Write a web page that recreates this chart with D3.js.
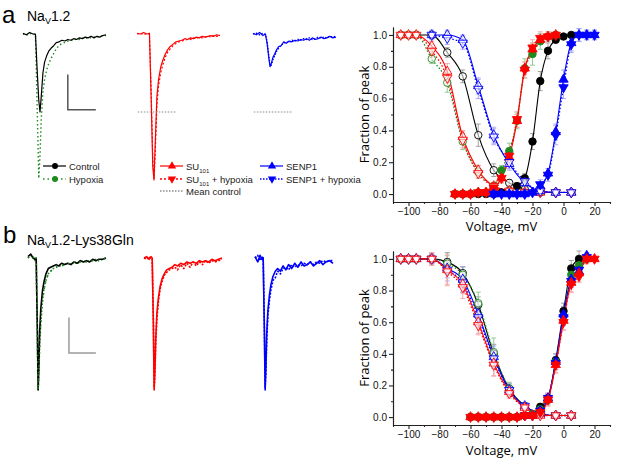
<!DOCTYPE html>
<html>
<head>
<meta charset="utf-8">
<script src="https://cdn.jsdelivr.net/npm/d3@7"></script>
<style>
  body { margin: 0; background: #fff; }
  svg { display: block; }
  .tick text { font-family: "Liberation Sans", Arial, sans-serif; font-size: 10px; }
</style>
</head>
<body>
<div id="fig"></div>
<script>

// ---- current traces (ms, normalised to mean control peak) ----
var tA = [0, 0.8, 1.6, 2.4, 3.0, 3.4, 3.8, 4.1, 4.4, 4.8, 5.2, 5.7, 6.2, 6.8, 7.4, 8.0, 8.7,
          9.4, 10.1, 10.8, 11.5, 12.2, 12.9, 13.6, 14.3, 15.0, 15.7, 16.4, 17.1, 17.8, 18.5, 19.2, 20.0];
var ctrlTraceA = [0.01, -0.01, 0.02, 0, 0, -0.45, -0.85, -1.0, -0.8, -0.5, -0.36, -0.28, -0.22, -0.18, -0.15, -0.11, -0.1,
                  -0.08, -0.09, -0.07, -0.08, -0.06, -0.07, -0.05, -0.06, -0.04, -0.05, -0.03, -0.05, -0.03, -0.04, -0.02, -0.01];
var hypTraceA = [0, -0.02, 0.01, -0.01, 0, -0.9, -1.85, -1.55, -1.1, -0.75, -0.58, -0.46, -0.38, -0.31, -0.25, -0.19, -0.15,
                 -0.12, -0.11, -0.09, -0.08, -0.08, -0.06, -0.07, -0.05, -0.06, -0.04, -0.05, -0.04, -0.03, -0.04, -0.02, -0.02];
var suTraceA = [0.01, 0, 0.02, 0, 0.01, -0.8, -1.7, -1.87, -1.4, -0.8, -0.58, -0.43, -0.34, -0.26, -0.2, -0.16, -0.13,
                -0.1, -0.09, -0.08, -0.06, -0.07, -0.05, -0.06, -0.04, -0.05, -0.03, -0.04, -0.03, -0.02, -0.03, -0.01, -0.02];
var suHypTraceA = [0, 0.01, -0.01, 0.01, 0, -0.7, -1.6, -1.85, -1.5, -0.9, -0.66, -0.5, -0.4, -0.3, -0.23, -0.19, -0.15,
                   -0.12, -0.1, -0.09, -0.08, -0.07, -0.07, -0.05, -0.06, -0.04, -0.05, -0.04, -0.03, -0.04, -0.02, -0.03, -0.02];
var senpTraceA = [0.01, -0.01, 0.02, -0.02, 0, -0.12, -0.3, -0.42, -0.38, -0.3, -0.26, -0.2, -0.16, -0.15, -0.1, -0.12, -0.09,
                  -0.1, -0.08, -0.09, -0.07, -0.08, -0.06, -0.08, -0.05, -0.07, -0.06, -0.04, -0.06, -0.05, -0.03, -0.05, -0.04];
var senpHypTraceA = [0, 0.01, -0.01, 0.01, -0.01, -0.1, -0.28, -0.4, -0.4, -0.33, -0.28, -0.22, -0.18, -0.14, -0.12, -0.1, -0.11,
                     -0.08, -0.09, -0.07, -0.08, -0.06, -0.07, -0.05, -0.07, -0.06, -0.04, -0.05, -0.04, -0.05, -0.03, -0.04, -0.03];

var tB = [0, 0.7, 1.3, 1.8, 2.1, 2.4, 2.6, 2.8, 3.0, 3.3, 3.7, 4.1, 4.6, 5.2, 5.8, 6.5, 7.2,
          7.9, 8.6, 9.4, 10.2, 11.0, 11.8, 12.6, 13.4, 14.2, 15.0, 15.8, 16.6, 17.4, 18.2, 19.1, 20.0];
var ctrlTraceB = [0.01, 0.03, 0.0, -0.01, 0, -0.55, -1.0, -0.8, -0.55, -0.38, -0.25, -0.18, -0.12, -0.08, -0.07, -0.06, -0.05,
                  -0.06, -0.04, -0.05, -0.04, -0.05, -0.03, -0.04, -0.02, -0.03, -0.02, -0.03, -0.01, -0.02, -0.01, -0.01, 0];
var hypTraceB = [0, 0.02, 0.01, -0.02, 0, -0.6, -1.0, -0.85, -0.65, -0.48, -0.33, -0.24, -0.17, -0.12, -0.1, -0.08, -0.07,
                 -0.06, -0.06, -0.05, -0.04, -0.05, -0.03, -0.04, -0.03, -0.02, -0.03, -0.02, -0.02, -0.01, -0.02, -0.01, 0];
var suTraceB = [0, 0.01, -0.01, 0.01, 0, -0.5, -1.0, -0.85, -0.62, -0.42, -0.3, -0.22, -0.16, -0.12, -0.09, -0.08, -0.07,
                -0.05, -0.06, -0.04, -0.05, -0.03, -0.04, -0.03, -0.04, -0.02, -0.03, -0.02, -0.03, -0.01, -0.02, -0.01, 0];
var suHypTraceB = [0, -0.01, 0.01, 0, 0, -0.45, -0.98, -0.88, -0.66, -0.46, -0.33, -0.24, -0.18, -0.13, -0.11, -0.09, -0.08,
                   -0.07, -0.09, -0.05, -0.08, -0.04, -0.07, -0.03, -0.06, -0.03, -0.05, -0.02, -0.04, -0.02, -0.03, -0.02, -0.01];
var senpTraceB = [0.01, -0.03, 0.02, -0.01, 0, -0.55, -1.0, -0.82, -0.58, -0.4, -0.28, -0.2, -0.14, -0.1, -0.08, -0.1, -0.06,
                  -0.09, -0.05, -0.08, -0.04, -0.07, -0.03, -0.06, -0.05, -0.03, -0.06, -0.04, -0.02, -0.05, -0.03, -0.02, -0.04];
var senpHypTraceB = [0, 0.02, -0.02, 0.01, 0, -0.5, -0.98, -0.86, -0.62, -0.44, -0.32, -0.24, -0.17, -0.15, -0.1, -0.12, -0.08,
                     -0.07, -0.09, -0.05, -0.07, -0.05, -0.06, -0.04, -0.05, -0.03, -0.05, -0.03, -0.04, -0.02, -0.03, -0.02, -0.02];

// scale bars [t start, i start, length ms, length amp]
var scaleBarA = [10.8, -0.97, 6.75, 0.45];
var scaleBarB = [10.5, -0.72, 6.9, 0.27];
var meanControl = -1;

// ---- voltage dependence ----
var inactX = [-105, -100, -95, -85, -75, -65, -55, -45, -35, -25, -15, -5, 5];
var actXa = [-70, -65, -60, -55, -50, -45, -40, -35, -30, -25, -20, -15, -10, -5, 0, 5, 10, 15, 20];
var actXb = [-60, -55, -50, -45, -40, -35, -30, -25, -20, -15, -10, -5, 0, 5, 10, 15, 20];

var inactCtrlA = [1, 1, 1, 1.0, 0.89, 0.74, 0.37, 0.15, 0.07, 0.03, 0.01, 0.01, 0.01];
var inactHypA = [1, 1, 1, 0.85, 0.70, 0.33, 0.14, 0.05, 0.02, 0.01, 0.01, 0.01, 0.01];
var inactSuA = [1, 1, 1, 0.93, 0.77, 0.36, 0.15, 0.05, 0.02, 0.01, 0.01, 0.01, 0.01];
var inactSuHypA = [1, 1, 1, 0.90, 0.73, 0.34, 0.13, 0.05, 0.02, 0.01, 0.01, 0.01, 0.01];
var inactSenpA = [null, null, null, 1.0, 1.0, 0.97, 0.68, 0.37, 0.19, 0.07, 0.02, 0.01, 0.01];
var inactSenpHypA = [null, null, null, 1.0, 0.98, 0.95, 0.66, 0.36, 0.20, 0.08, 0.02, 0.01, 0.01];
var inactCtrlAErr = [0, 0, 0, 0.02, 0.03, 0.04, 0.07, 0.04, 0.02, 0.01, 0.01, 0.01, 0];
var inactHypAErr = [0, 0, 0, 0.03, 0.06, 0.05, 0.04, 0.02, 0.01, 0.01, 0, 0, 0];
var inactSuAErr = [0, 0, 0, 0.03, 0.05, 0.04, 0.03, 0.02, 0.01, 0.01, 0, 0, 0];
var inactSuHypAErr = [0, 0, 0, 0.04, 0.05, 0.05, 0.03, 0.02, 0.01, 0.01, 0, 0, 0];
var inactSenpAErr = [null, null, null, 0.02, 0.03, 0.03, 0.05, 0.05, 0.04, 0.02, 0.01, 0.01, 0.01];
var inactSenpHypAErr = [null, null, null, 0.03, 0.04, 0.04, 0.06, 0.05, 0.04, 0.02, 0.01, 0.01, 0.01];

var actCtrlA = [0, 0, 0, 0, 0, 0, 0.01, 0.02, 0.05, 0.10, 0.33, 0.71, 0.90, 0.97, 0.99, 1.0, null, null, null];
var actHypA = [0, 0, 0, 0.01, 0.01, 0.05, 0.15, 0.27, 0.46, 0.79, 0.88, 0.96, 0.99, 1.0, null, null, null, null, null];
var actSuA = [0, 0, 0, 0.01, 0.01, 0.04, 0.10, 0.23, 0.46, 0.79, 0.91, 0.97, 0.99, 1.0, null, null, null, null, null];
var actSuHypA = [0, 0, 0, 0.01, 0.01, 0.04, 0.10, 0.24, 0.47, 0.78, 0.92, 0.98, 0.99, 1.0, null, null, null, null, null];
var actSenpA = [null, null, null, null, null, 0, 0, 0, 0, 0, 0.01, 0.05, 0.13, 0.39, 0.72, 0.95, 1.0, 1.0, 1.0];
var actSenpHypA = [null, null, null, null, null, 0, 0, 0, 0, 0, 0.01, 0.06, 0.12, 0.37, 0.67, 0.94, 1.0, 1.0, 1.0];
var actCtrlAErr = [0, 0, 0, 0, 0, 0, 0.01, 0.01, 0.02, 0.03, 0.05, 0.06, 0.05, 0.02, 0.01, 0.01, null, null, null];
var actHypAErr = [0, 0, 0, 0.01, 0.01, 0.02, 0.03, 0.05, 0.05, 0.06, 0.07, 0.05, 0.03, 0.02, null, null, null, null, null];
var actSuAErr = [0, 0, 0, 0, 0.01, 0.02, 0.03, 0.04, 0.04, 0.04, 0.04, 0.03, 0.02, 0.02, null, null, null, null, null];
var actSuHypAErr = [0, 0, 0, 0, 0.01, 0.02, 0.03, 0.04, 0.05, 0.05, 0.05, 0.04, 0.03, 0.02, null, null, null, null, null];
var actSenpAErr = [null, null, null, null, null, 0, 0, 0, 0, 0, 0.01, 0.02, 0.03, 0.05, 0.06, 0.05, 0.04, 0.03, 0.03];
var actSenpHypAErr = [null, null, null, null, null, 0, 0, 0, 0, 0, 0.01, 0.03, 0.04, 0.06, 0.07, 0.05, 0.04, 0.03, 0.03];

var inactCtrlB = [1, 1, 1, 1.0, 0.98, 0.91, 0.71, 0.40, 0.18, 0.07, 0.02, 0.01, 0.01];
var inactHypB = [1, 1, 1, 1.0, 0.97, 0.90, 0.72, 0.41, 0.18, 0.07, 0.02, 0.01, 0.01];
var inactSuB = [1, 1, 1, 1.0, 0.93, 0.84, 0.60, 0.34, 0.16, 0.06, 0.01, 0.01, 0.01];
var inactSuHypB = [1, 1, 1, 1.0, 0.92, 0.82, 0.58, 0.33, 0.15, 0.06, 0.01, 0.01, 0.01];
var inactSenpB = [1, 1, 1, 1.0, 0.94, 0.87, 0.65, 0.38, 0.17, 0.07, 0.02, 0.01, 0.01];
var inactSenpHypB = [1, 1, 1, 1.0, 0.93, 0.85, 0.63, 0.37, 0.17, 0.07, 0.02, 0.01, 0.01];
var inactCtrlBErr = [0, 0, 0, 0.03, 0.06, 0.04, 0.05, 0.06, 0.03, 0.02, 0.01, 0, 0];
var inactHypBErr = [0, 0, 0, 0.03, 0.05, 0.05, 0.07, 0.09, 0.04, 0.02, 0.01, 0, 0];
var inactSuBErr = [0, 0, 0, 0.04, 0.10, 0.06, 0.07, 0.08, 0.03, 0.02, 0.01, 0, 0];
var inactSuHypBErr = [0, 0, 0, 0.04, 0.08, 0.07, 0.06, 0.07, 0.03, 0.02, 0.01, 0, 0];
var inactSenpBErr = [0, 0, 0, 0.03, 0.06, 0.08, 0.05, 0.07, 0.04, 0.02, 0.01, 0, 0];
var inactSenpHypBErr = [0, 0, 0, 0.03, 0.07, 0.06, 0.06, 0.06, 0.03, 0.02, 0.01, 0, 0];

var actCtrlB = [0, 0, 0, 0, 0, 0, 0, 0.01, 0.02, 0.065, 0.12, 0.36, 0.67, 0.94, 1.0, null, null];
var actHypB = [0, 0, 0, 0, 0, 0, 0, 0.01, 0.02, 0.05, 0.11, 0.35, 0.64, 0.90, 0.96, 1.0, null];
var actSuB = [0, 0, 0, 0, 0, 0, 0, 0.01, 0.01, 0.03, 0.11, 0.33, 0.61, 0.85, 0.91, 1.0, 1.0];
var actSuHypB = [0, 0, 0, 0, 0, 0, 0, 0.01, 0.01, 0.03, 0.11, 0.33, 0.60, 0.84, 0.89, 1.0, 1.0];
var actSenpB = [null, null, null, null, null, null, null, 0.01, 0.01, 0.04, 0.12, 0.35, 0.65, 0.87, 0.92, 1.02, null];
var actSenpHypB = [null, null, null, null, null, null, null, 0.01, 0.01, 0.04, 0.12, 0.34, 0.63, 0.86, 0.93, 1.01, null];
var actCtrlBErr = [0, 0, 0, 0, 0, 0, 0, 0, 0.01, 0.02, 0.03, 0.04, 0.05, 0.05, 0.05, null, null];
var actHypBErr = [0, 0, 0, 0, 0, 0, 0, 0, 0.01, 0.02, 0.03, 0.05, 0.06, 0.05, 0.04, 0.02, null];
var actSuBErr = [0, 0, 0, 0, 0, 0, 0, 0, 0.01, 0.02, 0.04, 0.05, 0.06, 0.06, 0.05, 0.03, 0.01];
var actSuHypBErr = [0, 0, 0, 0, 0, 0, 0, 0, 0.01, 0.02, 0.04, 0.05, 0.05, 0.05, 0.04, 0.03, 0.01];
var actSenpBErr = [null, null, null, null, null, null, null, 0, 0.01, 0.02, 0.03, 0.05, 0.05, 0.05, 0.04, 0.02, null];
var actSenpHypBErr = [null, null, null, null, null, null, null, 0, 0.01, 0.02, 0.03, 0.04, 0.05, 0.04, 0.04, 0.02, null];

var xTicks = [-100, -80, -60, -40, -20, 0, 20];
var xMinor = [-110, -90, -70, -50, -30, -10, 10, 30];
var yTicks = [0, 0.2, 0.4, 0.6, 0.8, 1.0];
var yMinor = [0.1, 0.3, 0.5, 0.7, 0.9];

var colors = { ctrl: "#000000", hyp: "#1e8a1e", su: "#ff0000", senp: "#0000ff" };
var errColors = { ctrl: "#9a9a9a", hyp: "#8cc48c", su: "#f5a3a3", senp: "#a3a3f5" };

var width = 617, height = 464;
var svg = d3.select('#fig').append('svg')
  .attr('width', width)
  .attr('height', height);

var sans = '"Liberation Sans", Arial, sans-serif';
var human = '"Open Sans", "Noto Sans", sans-serif';

// panel letters + titles =====================
svg.append('text').attr('x', 2).attr('y', 23).attr('font-family', sans).attr('font-size', 24).text('a');
svg.append('text').attr('x', 3).attr('y', 243).attr('font-family', sans).attr('font-size', 24).text('b');

function title(y, rest) {
  var t = svg.append('text').attr('x', 27).attr('y', y).attr('font-family', sans).attr('font-size', 14);
  t.append('tspan').text('Na');
  t.append('tspan').attr('font-size', 9).attr('dy', 3).text('V');
  t.append('tspan').attr('dy', -3).text(rest);
}
title(21, '1.2');
title(245, '1.2-Lys38Gln');

// traces =====================
var line = d3.line().x(function(d) { return d[0]; }).y(function(d) { return d[1]; });

function drawTrace(x, y, t, vals, color, dash, w) {
  svg.append('path')
    .datum(vals.map(function(v, i) { return [x(t[i]), y(v)]; }))
    .attr('d', line)
    .attr('fill', 'none')
    .attr('stroke', color)
    .attr('stroke-width', w || 1.2)
    .attr('stroke-linejoin', 'round')
    .attr('stroke-dasharray', dash || null);
}

var yTrA = d3.scaleLinear().domain([0, -1]).range([34, 112]);
var yTrB = d3.scaleLinear().domain([0, -1]).range([258, 390]);
var trA = [23, 137, 253].map(function(x0) { return d3.scaleLinear().domain([0, 20]).range([x0, x0 + 83]); });
var trB = [28, 144, 255].map(function(x0) { return d3.scaleLinear().domain([0, 20]).range([x0, x0 + 78]); });

drawTrace(trA[0], yTrA, tA, hypTraceA, colors.hyp, '1.5,2.5', 1.4);
drawTrace(trA[0], yTrA, tA, ctrlTraceA, colors.ctrl);
drawTrace(trA[1], yTrA, tA, suHypTraceA, colors.su, '2,2');
drawTrace(trA[1], yTrA, tA, suTraceA, colors.su);
drawTrace(trA[2], yTrA, tA, senpHypTraceA, colors.senp, '1.5,1.5', 1.4);
drawTrace(trA[2], yTrA, tA, senpTraceA, colors.senp);

drawTrace(trB[0], yTrB, tB, hypTraceB, colors.hyp, '1.5,2', 1.6);
drawTrace(trB[0], yTrB, tB, ctrlTraceB, colors.ctrl, null, 1.6);
drawTrace(trB[0], yTrB, tB, hypTraceB, colors.hyp, '1.5,5', 1.6);
drawTrace(trB[1], yTrB, tB, suHypTraceB, colors.su, '2,1.5', 1.6);
drawTrace(trB[1], yTrB, tB, suTraceB, colors.su, null, 1.6);
drawTrace(trB[2], yTrB, tB, senpHypTraceB, colors.senp, '2,1.5', 1.6);
drawTrace(trB[2], yTrB, tB, senpTraceB, colors.senp, null, 1.6);

// mean control (dotted grey) in SU / SENP panels
[trA[1], trA[2]].forEach(function(x) {
  svg.append('line')
    .attr('x1', x(0.2)).attr('x2', x(9.4))
    .attr('y1', yTrA(meanControl)).attr('y2', yTrA(meanControl))
    .attr('stroke', '#8a8a8a').attr('stroke-width', 1.2).attr('stroke-dasharray', '1.5,1.5');
});

function scaleBar(x, y, sb, color) {
  svg.append('path')
    .attr('d', 'M' + x(sb[0]) + ',' + y(sb[1] + sb[3]) + 'V' + y(sb[1]) + 'H' + x(sb[0] + sb[2]))
    .attr('fill', 'none').attr('stroke', color).attr('stroke-width', 1.5);
}
scaleBar(trA[0], yTrA, scaleBarA, '#555');
scaleBar(trB[0], yTrB, scaleBarB, '#9a9a9a');

// legend =====================
var symUp = d3.symbol().type(d3.symbolTriangle).size(30);
var symCircle = d3.symbol().type(d3.symbolCircle).size(28);

function legendItem(x, y, color, dash, sym, flip, label, sub, after) {
  svg.append('line').attr('x1', x).attr('x2', x + 23).attr('y1', y).attr('y2', y)
    .attr('stroke', color).attr('stroke-width', dash ? 1.4 : 1.2).attr('stroke-dasharray', dash);
  if (sym) {
    svg.append('path').attr('d', sym())
      .attr('transform', 'translate(' + (x + 12) + ',' + y + ')' + (flip ? ' rotate(180)' : ''))
      .attr('fill', color);
  }
  var t = svg.append('text').attr('x', x + 26).attr('y', y + 3.5)
    .attr('font-family', sans).attr('font-size', 9.5).attr('fill', '#222');
  t.append('tspan').text(label);
  if (sub) {
    t.append('tspan').attr('font-size', 6).attr('dy', 3).text(sub);
    if (after) t.append('tspan').attr('dy', -3).text(after);
  }
}
legendItem(43, 166, colors.ctrl, null, symCircle, false, 'Control');
legendItem(43, 179, colors.hyp, '1.5,3', symCircle, false, 'Hypoxia');
legendItem(160, 166, colors.su, null, symUp, false, 'SU', '101');
legendItem(160, 179, colors.su, '2,2', symUp, true, 'SU', '101', ' + hypoxia');
legendItem(160, 191, '#8a8a8a', '1.5,1.5', null, false, 'Mean control');
legendItem(260, 166, colors.senp, null, symUp, false, 'SENP1');
legendItem(260, 179, colors.senp, '1.5,1.5', symUp, true, 'SENP1 + hypoxia');

// voltage plots =====================
var xV = d3.scaleLinear().domain([-110, 30]).range([393, 610]);

var seriesA = [
  { key: 'ctrl', sym: d3.symbolCircle, flip: false, dash: null, inact: inactCtrlA, inactErr: inactCtrlAErr, act: actCtrlA, actErr: actCtrlAErr },
  { key: 'hyp', sym: d3.symbolCircle, flip: false, dash: '1.5,2', inact: inactHypA, inactErr: inactHypAErr, act: actHypA, actErr: actHypAErr },
  { key: 'su', sym: d3.symbolTriangle, flip: false, dash: null, inact: inactSuA, inactErr: inactSuAErr, act: actSuA, actErr: actSuAErr },
  { key: 'su', sym: d3.symbolTriangle, flip: true, dash: '1.5,2', inact: inactSuHypA, inactErr: inactSuHypAErr, act: actSuHypA, actErr: actSuHypAErr },
  { key: 'senp', sym: d3.symbolTriangle, flip: false, dash: null, inact: inactSenpA, inactErr: inactSenpAErr, act: actSenpA, actErr: actSenpAErr },
  { key: 'senp', sym: d3.symbolTriangle, flip: true, dash: '1.5,2', inact: inactSenpHypA, inactErr: inactSenpHypAErr, act: actSenpHypA, actErr: actSenpHypAErr }
];
var seriesB = [
  { key: 'ctrl', sym: d3.symbolCircle, flip: false, dash: null, inact: inactCtrlB, inactErr: inactCtrlBErr, act: actCtrlB, actErr: actCtrlBErr },
  { key: 'hyp', sym: d3.symbolCircle, flip: false, dash: '1.5,2', inact: inactHypB, inactErr: inactHypBErr, act: actHypB, actErr: actHypBErr },
  { key: 'senp', sym: d3.symbolTriangle, flip: false, dash: null, inact: inactSenpB, inactErr: inactSenpBErr, act: actSenpB, actErr: actSenpBErr },
  { key: 'senp', sym: d3.symbolTriangle, flip: true, dash: '1.5,2', inact: inactSenpHypB, inactErr: inactSenpHypBErr, act: actSenpHypB, actErr: actSenpHypBErr },
  { key: 'su', sym: d3.symbolTriangle, flip: false, dash: null, inact: inactSuB, inactErr: inactSuBErr, act: actSuB, actErr: actSuBErr },
  { key: 'su', sym: d3.symbolTriangle, flip: true, dash: '1.5,2', inact: inactSuHypB, inactErr: inactSuHypBErr, act: actSuHypB, actErr: actSuHypBErr }
];

function pts(xs, ys, es) {
  return xs.map(function(x, i) { return { x: x, y: ys[i], e: es[i] }; })
    .filter(function(d) { return d.y != null; });
}

function voltagePlot(y, series, actX, labelY) {
  var g = svg.append('g');

  // axes
  g.append('g').attr('transform', 'translate(0,' + y.range()[0] + ')')
    .call(d3.axisBottom(xV).tickValues(xTicks).tickSize(4).tickSizeOuter(0).tickPadding(2));
  g.append('g').attr('transform', 'translate(0,' + y.range()[0] + ')')
    .call(d3.axisBottom(xV).tickValues(xMinor).tickSize(2).tickSizeOuter(0).tickFormat(''));
  g.append('g').attr('transform', 'translate(' + xV.range()[0] + ',0)')
    .call(d3.axisLeft(y).tickValues(yTicks).tickSize(4).tickSizeOuter(0).tickPadding(2).tickFormat(d3.format('.1f')));
  g.append('g').attr('transform', 'translate(' + xV.range()[0] + ',0)')
    .call(d3.axisLeft(y).tickValues(yMinor).tickSize(2).tickSizeOuter(0).tickFormat(''));
  g.selectAll('.domain, .tick line').attr('stroke', '#222').attr('stroke-width', 1.1);
  g.selectAll('.tick text').attr('fill', '#111');

  g.append('text')
    .attr('transform', 'translate(369,' + ((y.range()[0] + y.range()[1]) / 2) + ') rotate(-90)')
    .attr('text-anchor', 'middle').attr('font-family', human).attr('font-size', 13)
    .text('Fraction of peak');
  g.append('text')
    .attr('x', (xV.range()[0] + xV.range()[1]) / 2).attr('y', labelY)
    .attr('text-anchor', 'middle').attr('font-family', human).attr('font-size', 13)
    .text('Voltage, mV');

  var curve = d3.line().x(function(d) { return xV(d.x); }).y(function(d) { return y(d.y); })
    .curve(d3.curveMonotoneX);

  var sets = [];
  series.forEach(function(s) {
    sets.push({ s: s, open: true, d: pts(inactX, s.inact, s.inactErr) });
    sets.push({ s: s, open: false, d: pts(actX, s.act, s.actErr) });
  });

  // error bars
  sets.forEach(function(set) {
    var c = errColors[set.s.key];
    set.d.filter(function(d) { return d.e > 0; }).forEach(function(d) {
      var px = xV(d.x), y0 = y(d.y - d.e), y1 = y(d.y + d.e);
      g.append('path')
        .attr('d', 'M' + px + ',' + y0 + 'V' + y1 + 'M' + (px - 2.5) + ',' + y0 + 'h5M' + (px - 2.5) + ',' + y1 + 'h5')
        .attr('stroke', c).attr('stroke-width', 0.9).attr('fill', 'none');
    });
  });

  // fitted lines
  sets.forEach(function(set) {
    g.append('path').datum(set.d).attr('d', curve)
      .attr('fill', 'none').attr('stroke', colors[set.s.key])
      .attr('stroke-width', set.s.dash ? 1.3 : 1.1)
      .attr('stroke-dasharray', set.s.dash);
  });

  // markers
  sets.forEach(function(set) {
    var sym = d3.symbol().type(set.s.sym).size(set.s.sym === d3.symbolCircle ? 44 : 38);
    g.selectAll(null).data(set.d).enter().append('path')
      .attr('d', sym)
      .attr('transform', function(d) {
        return 'translate(' + xV(d.x) + ',' + y(d.y) + ')' + (set.s.flip ? ' rotate(180)' : '');
      })
      .attr('fill', set.open ? '#fff' : colors[set.s.key])
      .attr('fill-opacity', set.open ? 0.6 : 1)
      .attr('stroke', colors[set.s.key])
      .attr('stroke-width', 0.9);
  });
}

voltagePlot(d3.scaleLinear().domain([-0.05, 1.05]).range([202, 27]), seriesA, actXa, 231);
voltagePlot(d3.scaleLinear().domain([-0.05, 1.05]).range([425, 251]), seriesB, actXb, 455);

</script>
</body>
</html>
